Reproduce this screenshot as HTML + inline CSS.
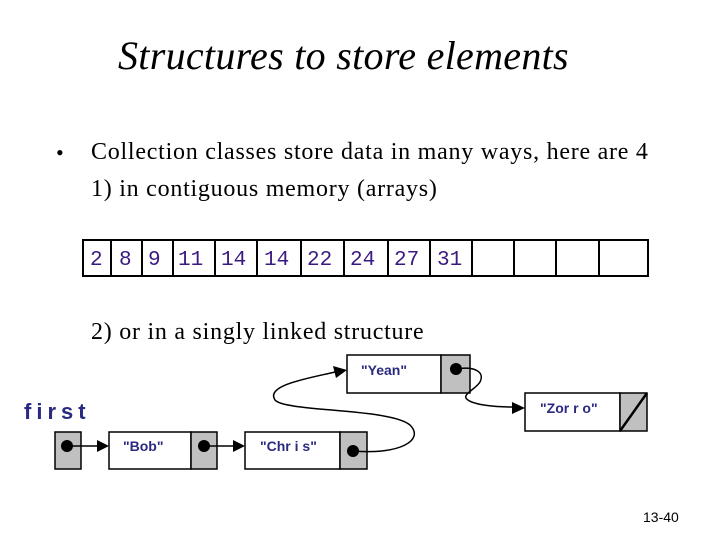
<!DOCTYPE html>
<html><head><style>
body{margin:0;width:720px;height:540px;background:#fff;position:relative;overflow:hidden;font-family:"Liberation Serif",serif}
.t{position:absolute;white-space:nowrap}
</style></head><body>
<div class="t" style="left:118px;top:32px;font-size:40px;font-style:italic;letter-spacing:0.3px">Structures to store elements</div>
<div class="t" style="left:56px;top:140px;font-size:22px">•</div>
<div class="t" style="left:91px;top:139px;font-size:24px;letter-spacing:0.75px">Collection classes store data in many ways, here are 4</div>
<div class="t" style="left:91px;top:176px;font-size:24px;letter-spacing:0.75px">1) in contiguous memory (arrays)</div>
<div class="t" style="left:91px;top:319px;font-size:24px;letter-spacing:0.75px">2) or in a singly linked structure</div>
<svg width="720" height="540" style="position:absolute;left:0;top:0">
<g fill="none" stroke="#000" stroke-width="2">
<rect x="83" y="240" width="565" height="36"/>
<path d="M111 240V276M142 240V276M173 240V276M215 240V276M257 240V276M301 240V276M344 240V276M388 240V276M430 240V276M472 240V276M514 240V276M556 240V276M599 240V276"/>
</g>
<g font-family="Liberation Mono,monospace" font-size="21" fill="#3a1a80">
<text x="90" y="265">2</text><text x="119" y="265">8</text><text x="148" y="265">9</text>
<text x="178" y="265">11</text><text x="221" y="265">14</text><text x="264" y="265">14</text>
<text x="307" y="265">22</text><text x="350" y="265">24</text><text x="394" y="265">27</text><text x="437" y="265">31</text>
</g>
<g stroke="#000" stroke-width="1.5">
<rect x="55" y="432" width="26" height="37" fill="#c0c0c0"/>
<rect x="109" y="432" width="82" height="37" fill="#fff"/>
<rect x="191" y="432" width="26" height="37" fill="#c0c0c0"/>
<rect x="245" y="432" width="95" height="37" fill="#fff"/>
<rect x="340" y="432" width="27" height="37" fill="#c0c0c0"/>
<rect x="347" y="355" width="94" height="38" fill="#fff"/>
<rect x="441" y="355" width="29" height="38" fill="#c0c0c0"/>
<rect x="525" y="393" width="95" height="38" fill="#fff"/>
<rect x="620" y="393" width="27" height="38" fill="#c0c0c0"/>
</g>
<line x1="620" y1="431" x2="647" y2="393" stroke="#000" stroke-width="2.5"/>
<g fill="#000">
<circle cx="67" cy="446" r="6"/><circle cx="204" cy="446" r="6"/><circle cx="353" cy="451" r="6"/><circle cx="456" cy="369" r="6"/>
</g>
<g stroke="#000" stroke-width="1.5" fill="none">
<path d="M67 446H98"/><path d="M204 446H234"/>
<path d="M353 451C400 455 425 440 410 425C390 408 285 412 275 400C265 385 310 378 335 372"/>
<path d="M456 369C475 366 485 372 480 382C475 390 460 395 468 400C475 405 495 407 513 407"/>
</g>
<g fill="#000">
<path d="M109 446L97 440V452Z"/><path d="M245 446L233 440V452Z"/>
<path d="M347 370L333 366L336 378Z"/><path d="M525 408L512 402V414Z"/>
</g>
<g font-family="Liberation Sans,sans-serif" font-weight="bold" font-size="14" fill="#2a2a80">
<text x="123" y="451">"Bob"</text><text x="260" y="451">"Chr i s"</text>
<text x="361" y="375">"Yean"</text><text x="540" y="413">"Zor r o"</text>
</g>
<text x="24" y="419" font-family="Liberation Sans,sans-serif" font-weight="bold" font-size="22" fill="#2a2a80" letter-spacing="5">first</text>
<text x="643" y="522" font-family="Liberation Sans,sans-serif" font-size="14">13-40</text>
</svg>
</body></html>
